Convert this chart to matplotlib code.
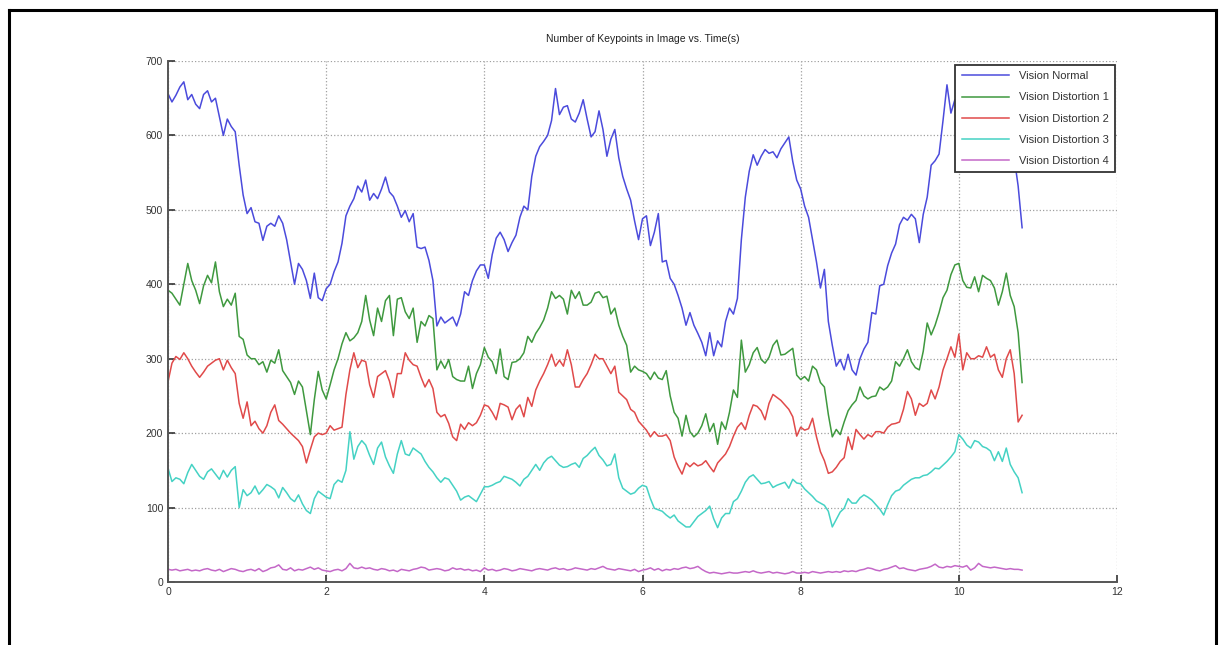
import matplotlib
matplotlib.use('Agg')
import matplotlib.pyplot as plt
from matplotlib.lines import Line2D
import numpy as np

plt.rcParams['font.family'] = ['Liberation Sans', 'DejaVu Sans']

# samples every 0.05 s, starting at t = 0
SAMPLE_DT = 0.05

vision_normal = [
    656, 645, 654, 665, 672, 648, 655, 642, 636, 655, 660, 645, 650, 625, 600, 622, 612, 605, 560, 520,
    495, 503, 484, 482, 459, 478, 482, 478, 492, 482, 460, 430, 400, 428, 420, 405, 381, 415, 382, 378,
    394, 400, 417, 430, 455, 492, 505, 515, 532, 524, 540, 513, 522, 515, 528, 544, 524, 518, 505, 490,
    499, 484, 495, 450, 448, 450, 432, 405, 344, 356, 348, 352, 356, 344, 360, 390, 385, 405, 418, 426,
    426, 408, 440, 462, 470, 460, 444, 456, 466, 490, 505, 500, 545, 572, 585, 592, 600, 620, 663, 628,
    638, 640, 622, 618, 630, 648, 622, 598, 605, 633, 608, 572, 595, 608, 570, 545, 528, 513, 485, 460,
    488, 492, 452, 470, 495, 430, 432, 408, 400, 385, 368, 345, 362, 345, 334, 322, 304, 335, 304, 324,
    316, 350, 368, 360, 381, 460, 517, 552, 574, 560, 572, 581, 576, 578, 570, 582, 590, 598, 565, 540,
    528, 505, 490, 460, 430, 395, 420, 350, 318, 290, 299, 285, 306, 285, 278, 300, 313, 322, 362, 360,
    398, 400, 425, 442, 454, 480, 490, 486, 494, 488, 456, 494, 517, 560, 566, 575, 620, 668, 630, 648,
    650, 640, 632, 625, 618, 622, 612, 605, 608, 598, 592, 588, 582, 578, 570, 532, 476,
]

vision_distortion_1 = [
    392, 388, 380, 372, 400, 428, 405, 392, 374, 398, 412, 402, 430, 390, 370, 380, 372, 388, 330, 326,
    305, 300, 300, 292, 296, 282, 298, 294, 312, 284, 276, 268, 252, 270, 262, 230, 198, 245, 283, 258,
    246, 265, 285, 300, 320, 335, 324, 328, 335, 350, 385, 352, 331, 368, 350, 378, 385, 331, 380, 382,
    363, 354, 368, 322, 350, 344, 358, 354, 285, 297, 287, 299, 276, 272, 270, 270, 290, 260, 280, 292,
    315, 302, 296, 280, 313, 276, 272, 295, 296, 300, 308, 330, 322, 334, 342, 352, 368, 390, 381, 385,
    380, 360, 392, 381, 390, 372, 372, 376, 388, 390, 382, 384, 360, 368, 345, 330, 318, 282, 290, 285,
    283, 280, 272, 282, 274, 272, 284, 250, 228, 220, 196, 224, 202, 195, 200, 210, 226, 202, 213, 185,
    215, 205, 228, 258, 248, 325, 282, 292, 308, 315, 299, 294, 302, 318, 325, 305, 306, 310, 314, 278,
    272, 276, 270, 290, 285, 268, 262, 225, 195, 205, 198, 215, 230, 238, 244, 262, 250, 246, 249, 250,
    262, 258, 262, 270, 296, 290, 300, 312, 296, 288, 285, 310, 348, 332, 345, 362, 382, 392, 413, 426,
    428, 405, 396, 395, 410, 390, 412, 408, 405, 395, 372, 390, 415, 385, 370, 335, 268,
]

vision_distortion_2 = [
    269, 294, 303, 299, 308, 300, 290, 282, 275, 282, 290, 294, 298, 300, 285, 298, 288, 280, 240, 220,
    242, 210, 216, 206, 200, 210, 228, 238, 217, 212, 206, 200, 195, 190, 182, 160, 178, 195, 200, 198,
    200, 210, 204, 206, 208, 252, 285, 308, 288, 298, 296, 265, 248, 276, 280, 284, 270, 248, 280, 280,
    308, 298, 292, 290, 275, 262, 272, 260, 228, 222, 225, 213, 195, 190, 212, 205, 214, 210, 214, 224,
    238, 236, 228, 218, 240, 238, 235, 218, 232, 238, 222, 248, 236, 258, 270, 280, 292, 306, 290, 298,
    290, 312, 292, 262, 262, 272, 280, 292, 306, 300, 300, 290, 280, 290, 255, 250, 245, 232, 228, 216,
    210, 204, 195, 202, 196, 196, 198, 190, 168, 155, 145, 160, 155, 160, 156, 158, 163, 155, 148, 160,
    166, 172, 182, 196, 208, 214, 205, 224, 238, 236, 230, 218, 240, 252, 248, 244, 238, 232, 222, 196,
    208, 204, 206, 220, 195, 175, 163, 146, 148, 154, 162, 167, 195, 178, 205, 198, 192, 198, 195, 202,
    202, 200, 208, 212, 213, 215, 232, 256, 246, 224, 240, 236, 240, 258, 246, 262, 285, 300, 316, 302,
    333, 285, 308, 300, 300, 304, 302, 316, 302, 306, 285, 275, 300, 312, 280, 215, 224,
]

vision_distortion_3 = [
    153, 135, 140, 138, 132, 147, 158, 150, 142, 138, 148, 152, 145, 138, 150, 141, 150, 155, 100, 124,
    116, 120, 129, 118, 124, 131, 128, 124, 113, 127, 120, 112, 108, 117, 105, 96, 92, 112, 122, 118,
    114, 112, 131, 137, 134, 150, 202, 165, 182, 190, 184, 170, 158, 180, 188, 168, 156, 146, 172, 190,
    172, 170, 180, 176, 172, 162, 154, 148, 140, 134, 140, 138, 130, 122, 110, 114, 116, 112, 108, 118,
    128, 128, 130, 133, 135, 142, 140, 138, 134, 129, 138, 142, 150, 158, 150, 160, 166, 169, 163, 157,
    154, 155, 158, 160, 154, 166, 170, 176, 181, 170, 164, 156, 158, 172, 140, 126, 122, 118, 120, 126,
    130, 128, 112, 99, 97, 95, 90, 86, 90, 82, 78, 74, 74, 81, 88, 92, 96, 102, 85, 73,
    86, 92, 92, 108, 112, 122, 134, 141, 144, 138, 132, 133, 135, 127, 130, 132, 134, 126, 138, 133,
    132, 125, 120, 115, 109, 106, 103, 95, 74, 84, 94, 99, 112, 106, 106, 113, 117, 114, 110, 104,
    98, 90, 104, 116, 122, 124, 130, 134, 138, 140, 140, 143, 144, 148, 153, 152, 157, 162, 168, 175,
    198, 192, 184, 180, 190, 188, 182, 180, 176, 163, 175, 162, 180, 158, 148, 140, 120,
]

vision_distortion_4 = [
    17, 16, 17, 15, 16, 17, 15, 16, 15, 17, 18, 16, 15, 17, 14, 16, 18, 17, 15, 14,
    16, 17, 15, 18, 14, 16, 19, 20, 23, 17, 16, 19, 15, 17, 16, 18, 20, 17, 19, 16,
    15, 14, 16, 17, 15, 18, 25, 19, 18, 20, 18, 19, 17, 16, 18, 17, 15, 16, 14, 17,
    16, 15, 17, 18, 20, 19, 16, 17, 18, 17, 15, 16, 19, 17, 18, 16, 17, 15, 16, 14,
    19, 16, 17, 15, 16, 18, 17, 15, 16, 18, 17, 16, 15, 17, 18, 17, 16, 18, 19, 17,
    18, 16, 17, 19, 18, 17, 16, 18, 17, 19, 21, 18, 17, 16, 18, 17, 16, 15, 17, 14,
    16, 17, 19, 16, 18, 15, 17, 16, 18, 17, 19, 20, 18, 19, 21, 17, 14, 12, 13, 12,
    11, 12, 13, 12, 12, 13, 14, 13, 15, 13, 12, 13, 14, 12, 13, 12, 11, 12, 14, 12,
    12, 13, 12, 14, 13, 12, 13, 14, 13, 14, 13, 15, 14, 15, 14, 16, 17, 19, 18, 16,
    15, 17, 18, 20, 22, 18, 19, 17, 16, 15, 17, 18, 19, 21, 24, 20, 19, 21, 20, 22,
    21, 20, 22, 16, 19, 25, 21, 20, 19, 20, 19, 18, 17, 18, 17, 17, 16,
]

series_labels = ['Vision Normal', 'Vision Distortion 1', 'Vision Distortion 2',
                 'Vision Distortion 3', 'Vision Distortion 4']
series_colors = ['#4b4bdc', '#3f993f', '#e04a4a', '#45d2c4', '#c468c8']
x_ticks = [0, 2, 4, 6, 8, 10, 12]
y_ticks = [0, 100, 200, 300, 400, 500, 600, 700]


def main() -> None:
    fig = plt.figure(figsize=(12.25, 6.45), dpi=100)
    ax = fig.add_axes([168/1225, 63/645, (1117-168)/1225, (584-63)/645])

    all_series = [vision_normal, vision_distortion_1, vision_distortion_2,
                  vision_distortion_3, vision_distortion_4]
    for vals, lab, col in zip(all_series, series_labels, series_colors):
        t = np.arange(len(vals)) * SAMPLE_DT
        ax.plot(t, vals, color=col, lw=1.1, label=lab)

    ax.set_xlim(0, 12)
    ax.set_ylim(0, 700)
    ax.set_xticks(x_ticks)
    ax.set_yticks(y_ticks)
    ax.tick_params(direction='in', length=5, width=1.2, labelsize=7.5, colors='#333333',
                   top=False, right=False)
    ax.grid(True, linestyle=':', color='#a0a0a0', linewidth=0.9)
    for side in ('top', 'right'):
        ax.spines[side].set_visible(False)
    for side in ('left', 'bottom'):
        ax.spines[side].set_linewidth(1.4)
        ax.spines[side].set_color('#555555')
    ax.set_title('Number of Keypoints in Image vs. Time(s)', fontsize=7.5, pad=14, color='#222222')

    leg = ax.legend(loc='upper right', fontsize=8, frameon=True, fancybox=False,
                    borderaxespad=0.0, borderpad=0.6, handlelength=4.2, handletextpad=0.9,
                    labelspacing=1.0, bbox_to_anchor=(0.998, 0.993))
    leg.get_frame().set_edgecolor('#333333')
    leg.get_frame().set_linewidth(1.3)
    leg.get_frame().set_alpha(1.0)
    for txt in leg.get_texts():
        txt.set_color('#333333')

    # outer frame drawn around the figure (open at the bottom)
    fx0, fx1, fy1 = 9/1225, 1216/1225, 1 - 10/645
    for xs, ys in (([fx0, fx0], [0, fy1]), ([fx0, fx1], [fy1, fy1]), ([fx1, fx1], [fy1, 0])):
        fig.add_artist(Line2D(xs, ys, transform=fig.transFigure, color='black', lw=2.2))

    fig.savefig('out.png', dpi=100)
    plt.close(fig)


if __name__ == '__main__':
    main()
